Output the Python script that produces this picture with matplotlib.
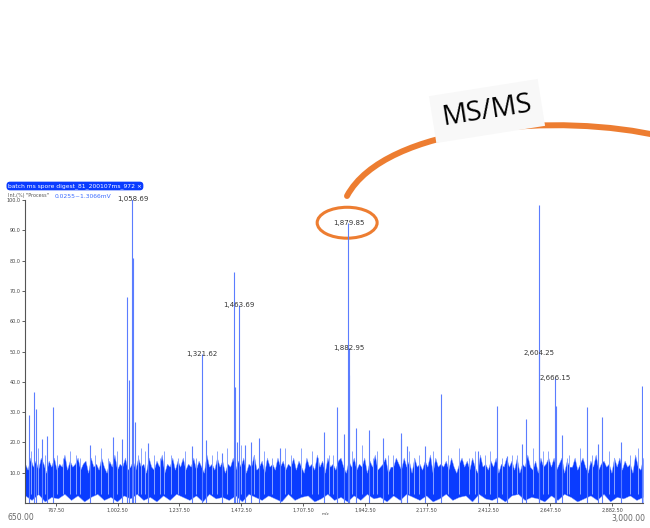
import matplotlib
matplotlib.use('Agg')
import matplotlib.pyplot as plt
import numpy as np
from matplotlib.patches import Ellipse, FancyArrowPatch
from matplotlib.path import Path

# labelled peaks: m/z, intensity (%)
peak_mz = [1058.69, 1321.62, 1463.69, 1879.85, 1882.95, 2604.25, 2666.15]
peak_int = [100.2, 49.2, 65.3, 92.3, 51.0, 49.5, 41.1]

# unlabelled peaks
other_mz = [1059.7, 1036.6, 1045.5, 1068.0, 685.0, 690.6, 664.0, 757.7, 735.0,
            713.5, 985.8, 1017.6, 1116.5, 897.0, 1445.9, 1448.0, 1337.0, 1541.0,
            1509.0, 1485.0, 1285.0, 1398.0, 1619.6, 1455.0, 1881.5, 1837.6,
            1907.0, 1863.0, 1788.0, 1958.0, 2012.0, 2078.6, 2231.7, 2446.0,
            2172.0, 2103.6, 2080.0, 2373.6, 2481.5, 2605.5, 2668.0, 2556.0,
            2693.0, 2788.0, 2845.0, 2917.0, 2998.0, 2540.0, 2830.0]
other_int = [80.7, 67.9, 40.6, 26.8, 36.7, 31.0, 29.0, 31.8, 22.2,
             21.0, 21.7, 21.0, 19.7, 19.0, 76.3, 38.4, 20.8, 21.3,
             20.0, 19.0, 18.7, 16.5, 18.3, 20.0, 42.2, 31.6,
             24.6, 22.8, 23.5, 24.0, 21.5, 23.0, 35.9, 32.0,
             18.8, 18.7, 21.0, 17.0, 15.5, 98.3, 32.0, 27.7,
             22.4, 31.6, 28.3, 20.2, 38.6, 19.6, 19.5]

# small noise spikes
spike_mz = [672, 700, 725, 770, 795, 820, 845, 860, 915, 940, 965, 1000, 1080,
            1090, 1105, 1140, 1165, 1180, 1205, 1230, 1260, 1300, 1360, 1380,
            1420, 1470, 1520, 1560, 1590, 1640, 1660, 1700, 1740, 1765, 1805,
            1820, 1895, 1930, 1975, 1990, 2030, 2050, 2110, 2130, 2150, 2200,
            2260, 2300, 2340, 2360, 2400, 2420, 2465, 2500, 2520, 2580, 2620,
            2640, 2710, 2720, 2760, 2805, 2870, 2890, 2950, 2980]
spike_int = [17, 18, 16, 16, 15, 17, 16, 15, 16, 18, 15, 17, 16,
             18, 17, 16, 15, 17, 16, 15, 17, 15, 16, 17,
             18, 19, 16, 17, 15, 18, 16, 18, 17, 15, 16,
             16, 17, 19, 15, 17, 16, 16, 17, 15, 16, 17,
             16, 18, 15, 17, 16, 17, 15, 16, 16, 18, 17,
             17, 15, 16, 18, 16, 17, 15, 16, 18]

# noise band: upper edge every 10 m/z, lower edge every 25 m/z
noise_mz = np.arange(650, 3001, 10)
noise_top = [13, 11, 15, 12, 14, 11, 15, 13, 10, 14, 12, 15, 11, 13, 12, 16, 11, 14, 12, 13,
             15, 11, 13, 14, 10, 15, 12, 13, 11, 15, 12, 10, 14, 12, 16, 11, 13, 12, 15, 11,
             12, 14, 11, 15, 12, 13, 10, 15, 12, 11, 14, 12, 16, 10, 13, 12, 15, 11, 14, 12,
             15, 11, 13, 12, 15, 11, 14, 12, 10, 16, 12, 13, 11, 15, 12, 14, 10, 13, 12, 15,
             11, 14, 12, 15, 10, 13, 12, 16, 11, 12, 14, 10, 15, 12, 13, 11, 15, 12, 14, 11,
             13, 12, 15, 11, 14, 12, 10, 15, 12, 13, 11, 16, 12, 14, 10, 15, 12, 13, 11, 14,
             15, 12, 10, 14, 12, 15, 11, 13, 12, 15, 10, 14, 12, 16, 11, 12, 13, 15, 10, 12,
             12, 15, 13, 11, 15, 12, 14, 10, 15, 12, 13, 11, 14, 12, 16, 10, 15, 12, 13, 12,
             14, 11, 15, 12, 10, 13, 15, 12, 14, 11, 15, 12, 10, 16, 12, 13, 11, 14, 12, 15,
             10, 13, 12, 15, 12, 14, 11, 15, 10, 13, 12, 16, 12, 11, 14, 10, 15, 12, 13, 15,
             12, 15, 11, 13, 15, 10, 14, 12, 12, 15, 11, 13, 15, 12, 10, 14, 12, 16, 11, 13,
             14, 12, 13, 10, 15, 12, 15, 11, 14, 12, 13, 10, 16, 12, 11, 15]
low_mz = np.arange(650, 3001, 25)
noise_low = [2.5, 1, 3, 0.5, 2, 1.5, 3, 1, 2.5, 0.5, 2, 3, 1, 2, 0.5, 2.5, 1.5, 3, 1, 2,
             0.5, 2.5, 1, 3, 2, 1, 2.5, 0.5, 3, 1.5, 2, 1, 2.5, 0.5, 3, 2, 1, 2.5, 1.5, 0.5,
             3, 1, 2, 2.5, 0.5, 1.5, 3, 1, 2, 0.5, 2.5, 1, 3, 1.5, 2, 0.5, 2.5, 1, 3, 2,
             1, 2.5, 0.5, 1.5, 3, 1, 2, 2.5, 0.5, 3, 1.5, 1, 2, 0.5, 2.5, 3, 1, 2, 1.5, 0.5,
             2.5, 1, 3, 2, 0.5, 1.5, 2.5, 1, 3, 0.5, 2, 1.5, 2.5, 1, 2]

yticks = [10, 20, 30, 40, 50, 60, 70, 80, 90, 100]
xticks = [767.5, 1002.5, 1237.5, 1472.5, 1707.5, 1942.5, 2177.5, 2412.5, 2647.5, 2882.5]

W, H = 650, 528
fig = plt.figure(figsize=(W / 100, H / 100), dpi=100)
ax = fig.add_axes([25 / W, 25 / H, 618 / W, 303 / H])

BLUE = '#0a3cff'
LIGHT = '#8aa4ff'

ax.fill_between(noise_mz, 0, noise_top, color=BLUE, lw=0.3, edgecolor=LIGHT)
ax.fill_between(low_mz, 0, noise_low, color='white', lw=0.3, edgecolor=LIGHT)
ax.vlines(spike_mz, 3, spike_int, color=LIGHT, lw=0.7)
ax.vlines(other_mz, 0, other_int, color='#5b7dff', lw=0.8)
ax.vlines(peak_mz, 0, peak_int, color='#5b7dff', lw=0.8)

for mz, it in zip(peak_mz, peak_int):
    ax.text(mz, it, '{:,.2f}'.format(mz), ha='center', va='center',
            fontsize=5, color='#333333')

ax.set_xlim(650, 3000)
ax.set_ylim(0, 100)
for s in ['top', 'right']:
    ax.spines[s].set_visible(False)
for s in ['left', 'bottom']:
    ax.spines[s].set_color('#555555')
    ax.spines[s].set_linewidth(0.8)
ax.set_yticks(yticks)
ax.set_yticklabels(['{:.1f}'.format(v) for v in yticks])
ax.set_xticks(xticks)
ax.set_xticklabels(['{:,.2f}'.format(v) for v in xticks])
ax.tick_params(labelsize=3.5, colors='#444444', length=2, width=0.6, pad=1.5)

# axis range labels and m/z
fig.text(7 / W, 1 - 517 / H, '650.00', fontsize=5.5, color='#666666', va='center')
fig.text(645 / W, 1 - 518 / H, '3,000.00', fontsize=5.5, color='#666666',
         va='center', ha='right')
fig.text(325 / W, 1 - 514 / H, 'm/z', fontsize=3, color='#444444', ha='center', va='center')

# header badge
fig.text(8 / W, 1 - 186 / H, 'batch ms spore digest_81_200107ms_972 \u00d7', fontsize=4.3,
         color='white', va='center',
         bbox=dict(boxstyle='round,pad=0.25,rounding_size=0.6', fc=BLUE, ec='none'))
fig.text(8 / W, 1 - 196 / H, 'Int.(%) "Process"', fontsize=3.5, color='#555555', va='center')
fig.text(55 / W, 1 - 196 / H, '0.0255~1.3066mV', fontsize=4.3, color='#3a6bff', va='center')

# ellipse around 1879.85
ax.add_patch(Ellipse((1875, 92.5), 228, 10.2, fill=False, ec='#ed7d31', lw=2.2,
                     clip_on=False))


# MS/MS arrow in figure pixels
def fpx(x, y):
    return (x / W, 1 - y / H)


verts = [fpx(347, 196), fpx(385, 125), fpx(560, 112), fpx(668, 138)]
path = Path(verts, [Path.MOVETO, Path.CURVE4, Path.CURVE4, Path.CURVE4])
arrow = FancyArrowPatch(path=path, arrowstyle='-|>,head_length=6,head_width=4',
                        color='#ed7d31', lw=4.3, transform=fig.transFigure)
fig.patches.append(arrow)

fig.text(*fpx(487, 111), 'MS/MS', fontsize=20, family=['Liberation Sans Narrow', 'Open Sans'],
         color='black', rotation=9, ha='center', va='center',
         bbox=dict(boxstyle='square,pad=0.35', fc='#f8f8f8', ec='none'))

fig.savefig('out.png', dpi=100)
